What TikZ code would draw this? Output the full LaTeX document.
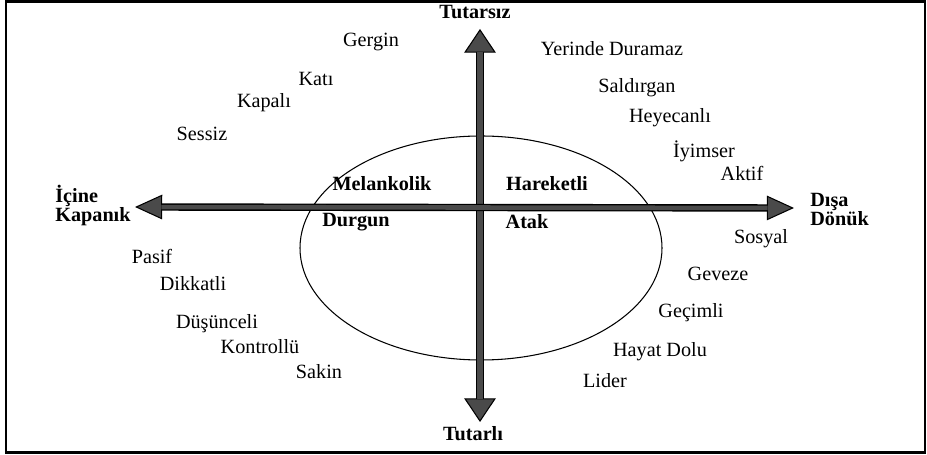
\documentclass[tikz,border=0pt]{standalone}
\usepackage{fontspec}
\setmainfont{Liberation Serif}
\usetikzlibrary{arrows.meta,positioning}
\definecolor{axisgray}{HTML}{4A4A4A}
\tikzset{
  trait/.style={
    font=\fontsize{11.5}{13.5}\selectfont,
    inner sep=0pt,
    text height=7.6pt,
    text depth=0pt
  },
  quadrant/.style={
    trait,
    font=\fontsize{11.5}{13.5}\selectfont\bfseries
  },
  pole/.style={
    font=\fontsize{11.5}{10.8}\selectfont\bfseries,
    align=left,
    inner sep=0pt,
    anchor=west
  },
  vaxis/.style={
    {Triangle[length=13.5pt,width=18pt,line width=0.6pt,fill=axisgray]}-{Triangle[length=13.5pt,width=18pt,line width=0.6pt,fill=axisgray]},
    line width=4.6pt,
    draw=black
  },
  haxis/.style={
    {Triangle[length=15.5pt,width=14pt,line width=0.6pt,fill=axisgray]}-{Triangle[length=15.5pt,width=14pt,line width=0.6pt,fill=axisgray]},
    line width=4.2pt,
    draw=black
  },
  vcore/.style={line width=3pt, draw=axisgray, shorten <=13pt, shorten >=13pt},
  hcore/.style={line width=2.6pt, draw=axisgray, shorten <=15pt, shorten >=15pt}
}

\begin{document}
\begin{tikzpicture}[x=0.02cm, y=-0.02cm]
\useasboundingbox (0,0) rectangle (927,455);
\draw[line width=1.5pt] (6,1.5) rectangle (925,452.5);

% ends of the two axes
\coordinate (vtop) at (480,29);
\coordinate (vbot) at (480,422);
\coordinate (hleft) at (135,207);
\coordinate (hright) at (794,208);

\draw[line width=0.6pt] (481,248) ellipse [x radius=181, y radius=112];

\draw[vaxis] (vbot) -- (vtop);
\draw[vcore] (vbot) -- (vtop);
\draw[haxis] (hleft) -- (hright);
\draw[hcore] (hleft) -- (hright);

% poles
\node[quadrant] (tutarsiz) at (475,12) {Tutarsız};
\node[quadrant] (tutarli) at (473,434) {Tutarlı};
\node[pole] (icine) at (55,205.5) {İçine\\Kapanık};
\node[pole] (disa) at (810,210) {Dışa\\Dönük};

% inside the ellipse
\node[quadrant] (melankolik) at (382,184) {Melankolik};
\node[quadrant] (durgun) at (356,220) {Durgun};
\node[quadrant] (hareketli) at (547,184) {Hareketli};
\node[quadrant] (atak) at (527,222) {Atak};

% upper left
\node[trait] (gergin) at (371,40) {Gergin};
\node[trait] (kati) at (316,79) {Katı};
\node[trait] (kapali) at (264,101) {Kapalı};
\node[trait] (sessiz) at (202,134) {Sessiz};

% upper right
\node[trait] (yerinde) at (612,49) {Yerinde Duramaz};
\node[trait] (saldirgan) at (637,86) {Saldırgan};
\node[trait] (heyecanli) at (670,116) {Heyecanlı};
\node[trait] (iyimser) at (704,151) {İyimser};
\node[trait] (aktif) at (742,174) {Aktif};

% lower left
\node[trait] (pasif) at (152,257) {Pasif};
\node[trait] (dikkatli) at (193,284) {Dikkatli};
\node[trait] (dusunceli) at (217,322) {Düşünceli};
\node[trait] (kontrollu) at (260,347) {Kontrollü};
\node[trait] (sakin) at (319,372) {Sakin};

% lower right
\node[trait] (sosyal) at (761,237) {Sosyal};
\node[trait] (geveze) at (718,274) {Geveze};
\node[trait] (gecimli) at (691,311) {Geçimli};
\node[trait] (hayat) at (660,350) {Hayat Dolu};
\node[trait] (lider) at (605,381) {Lider};
\end{tikzpicture}
\end{document}
